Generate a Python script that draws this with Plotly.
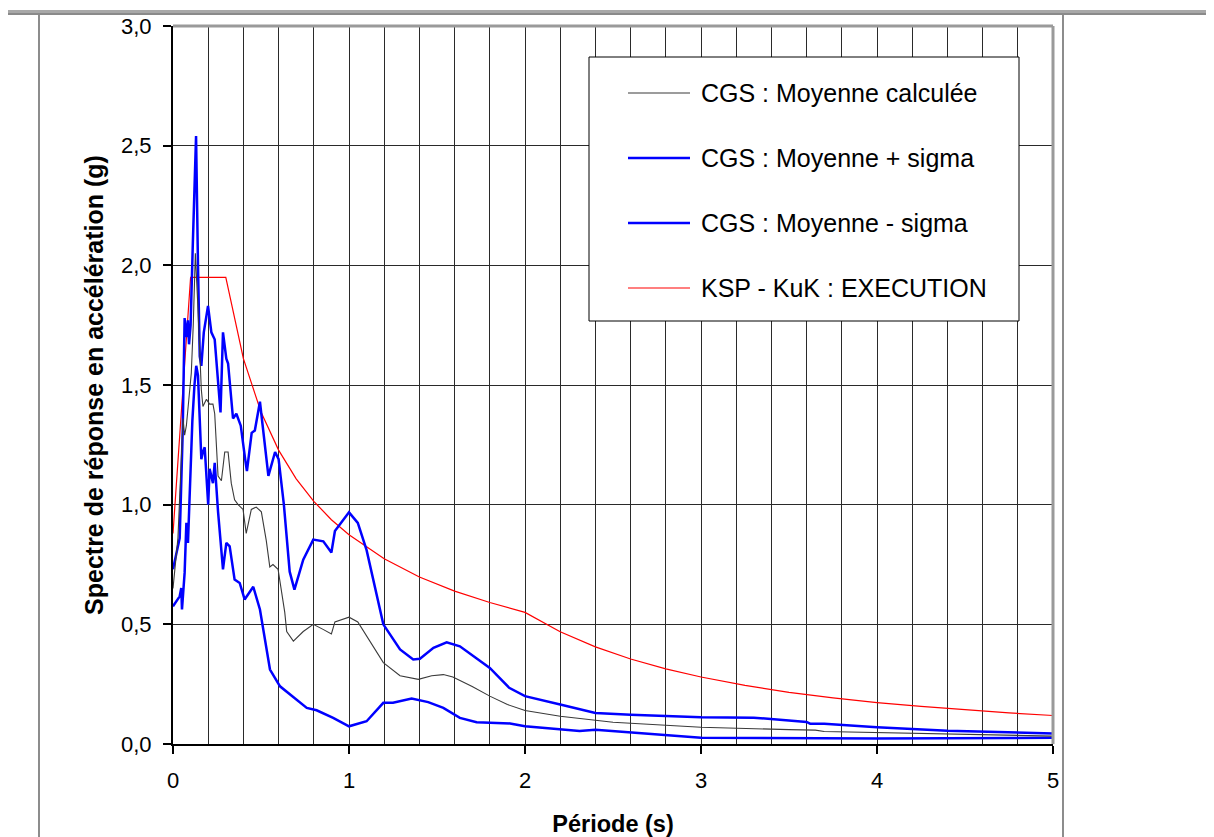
import plotly.graph_objects as go

# ---------------- data ----------------
T_mean = [0.00, 0.028, 0.057, 0.066, 0.076, 0.090, 0.104, 0.115, 0.127, 0.140, 0.152, 0.161,
          0.170, 0.190, 0.208, 0.227, 0.237, 0.256, 0.275, 0.294, 0.313, 0.331, 0.350, 0.370,
          0.398, 0.416, 0.445, 0.473, 0.502, 0.530, 0.550, 0.568, 0.597, 0.635, 0.646, 0.684,
          0.740, 0.797, 0.850, 0.900, 0.920, 1.000, 1.050, 1.100, 1.195, 1.290, 1.394, 1.470,
          1.536, 1.590, 1.700, 1.800, 1.900, 2.000, 2.136, 2.200, 2.500, 3.000, 3.500, 3.650,
          3.700, 4.000, 4.500, 5.000]
A_mean = [0.65, 0.86, 1.36, 1.29, 1.33, 1.45, 1.55, 1.75, 2.05, 1.85, 1.65, 1.48,
          1.41, 1.44, 1.42, 1.42, 1.38, 1.12, 1.10, 1.22, 1.22, 1.09, 1.02, 1.00,
          0.98, 0.88, 0.98, 0.99, 0.97, 0.85, 0.74, 0.75, 0.73, 0.55, 0.47, 0.43,
          0.47, 0.50, 0.48, 0.46, 0.51, 0.53, 0.51, 0.45, 0.34, 0.285, 0.27, 0.285,
          0.29, 0.28, 0.24, 0.20, 0.165, 0.14, 0.123, 0.116, 0.091, 0.070, 0.060, 0.058,
          0.052, 0.047, 0.040, 0.033]

T_plus = [0.00, 0.038, 0.055, 0.066, 0.075, 0.085, 0.091, 0.100, 0.113, 0.131, 0.142, 0.152,
          0.161, 0.175, 0.199, 0.218, 0.237, 0.256, 0.270, 0.284, 0.303, 0.313, 0.341, 0.360,
          0.385, 0.410, 0.420, 0.447, 0.465, 0.494, 0.510, 0.542, 0.580, 0.600, 0.630, 0.663,
          0.690, 0.740, 0.797, 0.854, 0.900, 0.920, 1.000, 1.050, 1.100, 1.195, 1.290, 1.365,
          1.403, 1.480, 1.555, 1.630, 1.800, 1.910, 2.000, 2.136, 2.200, 2.400, 2.600, 3.000,
          3.300, 3.600, 3.620, 3.700, 4.000, 4.400, 5.000]
A_plus = [0.73, 0.86, 1.30, 1.78, 1.70, 1.77, 1.67, 1.75, 2.10, 2.54, 2.00, 1.62,
          1.58, 1.72, 1.83, 1.72, 1.69, 1.52, 1.385, 1.72, 1.61, 1.59, 1.36, 1.38,
          1.33, 1.19, 1.14, 1.30, 1.31, 1.43, 1.32, 1.12, 1.22, 1.19, 1.00, 0.72,
          0.645, 0.77, 0.854, 0.847, 0.80, 0.89, 0.968, 0.924, 0.81, 0.50, 0.395, 0.353,
          0.356, 0.402, 0.425, 0.408, 0.318, 0.235, 0.200, 0.175, 0.165, 0.130, 0.122, 0.112,
          0.110, 0.092, 0.085, 0.085, 0.070, 0.055, 0.044]

T_minus = [0.00, 0.038, 0.047, 0.051, 0.066, 0.076, 0.085, 0.095, 0.110, 0.122, 0.132, 0.142,
           0.152, 0.161, 0.170, 0.180, 0.200, 0.208, 0.227, 0.237, 0.256, 0.270, 0.284, 0.303,
           0.322, 0.350, 0.379, 0.407, 0.456, 0.494, 0.551, 0.608, 0.703, 0.760, 0.816, 0.910,
           1.000, 1.100, 1.195, 1.250, 1.356, 1.450, 1.536, 1.630, 1.725, 1.915, 2.000, 2.200,
           2.310, 2.400, 2.600, 3.000, 4.000, 5.000]
A_minus = [0.575, 0.617, 0.652, 0.562, 0.715, 0.924, 0.84, 1.06, 1.35, 1.50, 1.58, 1.54,
           1.38, 1.19, 1.22, 1.24, 1.00, 1.15, 1.09, 1.175, 0.97, 0.83, 0.73, 0.84,
           0.826, 0.687, 0.673, 0.604, 0.657, 0.562, 0.311, 0.241, 0.186, 0.151, 0.141, 0.109,
           0.074, 0.095, 0.172, 0.172, 0.190, 0.175, 0.151, 0.109, 0.091, 0.086, 0.074, 0.063,
           0.054, 0.060, 0.049, 0.026, 0.023, 0.026]

T_ksp = [0.0, 0.1, 0.3, 0.4, 0.5, 0.6, 0.7, 0.8, 0.9, 1.0, 1.2, 1.4, 1.6, 1.8, 2.0,
         2.2, 2.4, 2.6, 2.8, 3.0, 3.25, 3.5, 3.75, 4.0, 4.25, 4.5, 4.75, 5.0]
A_ksp = [0.88, 1.95, 1.95, 1.61, 1.387, 1.228, 1.108, 1.014, 0.937, 0.874, 0.774, 0.698, 0.639, 0.591, 0.550,
         0.469, 0.406, 0.355, 0.314, 0.280, 0.245, 0.216, 0.193, 0.173, 0.157, 0.142, 0.130, 0.119]

legend_names = ["CGS : Moyenne calculée", "CGS : Moyenne + sigma",
                "CGS : Moyenne - sigma", "KSP - KuK : EXECUTION"]

x_ticks = [0, 1, 2, 3, 4, 5]
y_ticks = [0.0, 0.5, 1.0, 1.5, 2.0, 2.5, 3.0]

FONT = "Arial, Liberation Sans, sans-serif"
C_MEAN = "#3a3a3a"
C_BLUE = "#0000ff"
C_RED = "#ff0000"

fig = go.Figure()
fig.add_trace(go.Scatter(x=T_ksp, y=A_ksp, mode="lines", name=legend_names[3],
                         line=dict(color=C_RED, width=1.2)))
fig.add_trace(go.Scatter(x=T_minus, y=A_minus, mode="lines", name=legend_names[2],
                         line=dict(color=C_BLUE, width=2.5)))
fig.add_trace(go.Scatter(x=T_plus, y=A_plus, mode="lines", name=legend_names[1],
                         line=dict(color=C_BLUE, width=2.5)))
fig.add_trace(go.Scatter(x=T_mean, y=A_mean, mode="lines", name=legend_names[0],
                         line=dict(color=C_MEAN, width=1.1)))

# the page body has an 8px margin: the figure starts at page (8, 8)
OFF = 8
W, H = 1214 - OFF, 837 - OFF
L, R, TOP, B = 173 - OFF, 161, 26 - OFF, 93
PW = W - L - R
PH = H - TOP - B


def px(x):
    """page pixel x -> paper coordinate"""
    return (x - OFF - L) / PW


def py(y):
    """page pixel y -> paper coordinate"""
    return (H - B - (y - OFF)) / PH


shapes = []
# page decorations (document frame around the chart)
shapes.append(dict(type="rect", xref="paper", yref="paper", x0=px(-10), x1=px(1230),
                   y0=py(15), y1=py(10), fillcolor="#a8a8a8", line=dict(width=0), layer="above"))
shapes.append(dict(type="line", xref="paper", yref="paper", x0=px(-10), x1=px(1230),
                   y0=py(14), y1=py(14), line=dict(color="#808080", width=1.5), layer="above"))
for xx in (39, 1063):
    shapes.append(dict(type="line", xref="paper", yref="paper", x0=px(xx), x1=px(xx),
                       y0=py(850), y1=py(15), line=dict(color="#404040", width=1.2), layer="above"))
# plot area border (top/right gray)
shapes.append(dict(type="line", xref="paper", yref="paper", x0=0, x1=1.0, y0=1.0, y1=1.0,
                   line=dict(color="#9a9a9a", width=3), layer="above"))
shapes.append(dict(type="line", xref="paper", yref="paper", x0=1.0, x1=1.0, y0=0, y1=1.0,
                   line=dict(color="#9a9a9a", width=3), layer="above"))
# legend box
shapes.append(dict(type="rect", xref="paper", yref="paper", x0=px(589), x1=px(1019),
                   y0=py(321), y1=py(57), fillcolor="white",
                   line=dict(color="black", width=1), layer="above"))
legend_y = [93, 158, 223, 288]
legend_col = [C_MEAN, C_BLUE, C_BLUE, C_RED]
legend_w = [1.1, 2.5, 2.5, 1.2]
annotations = []
for name, yy, col, lw in zip(legend_names, legend_y, legend_col, legend_w):
    shapes.append(dict(type="line", xref="paper", yref="paper", x0=px(628), x1=px(690),
                       y0=py(yy), y1=py(yy), line=dict(color=col, width=lw), layer="above"))
    annotations.append(dict(xref="paper", yref="paper", x=px(699), y=py(yy), text=name,
                            showarrow=False, xanchor="left", yanchor="middle",
                            font=dict(family=FONT, size=25, color="black")))

fig.update_layout(
    width=W, height=H, autosize=False,
    margin=dict(l=L, r=R, t=TOP, b=B, pad=0, autoexpand=False),
    paper_bgcolor="white", plot_bgcolor="white",
    separators=", ",
    showlegend=False,
    font=dict(family=FONT, color="black"),
    shapes=shapes,
    annotations=annotations,
)

grid_col = "#2a2a2a"
fig.update_xaxes(
    range=[0, 5], tickvals=x_ticks, ticktext=[str(v) for v in x_ticks],
    ticks="outside", ticklen=8, tickwidth=1.5, tickcolor="black",
    tickfont=dict(size=22, family=FONT, color="black"), ticklabelstandoff=8,
    showline=True, linecolor="black", linewidth=2,
    showgrid=True, gridcolor=grid_col, gridwidth=1.3,
    minor=dict(dtick=0.2, showgrid=True, gridcolor=grid_col, gridwidth=1.3, ticks=""),
    zeroline=False, automargin=False,
    title=dict(text="<b>Période (s)</b>", font=dict(size=23.5, family=FONT, color="black"), standoff=25),
)
fig.update_yaxes(
    range=[0, 3], tickvals=y_ticks, tickformat=".1f",
    ticks="outside", ticklen=8, tickwidth=1.5, tickcolor="black",
    tickfont=dict(size=22, family=FONT, color="black"), ticklabelstandoff=7,
    showline=True, linecolor="black", linewidth=2,
    showgrid=True, gridcolor=grid_col, gridwidth=1.3,
    zeroline=False, automargin=False,
    title=dict(text="<b>Spectre de réponse en accélération (g)</b>",
               font=dict(size=25, family=FONT, color="black"), standoff=10),
)

fig.write_html("out.html")
